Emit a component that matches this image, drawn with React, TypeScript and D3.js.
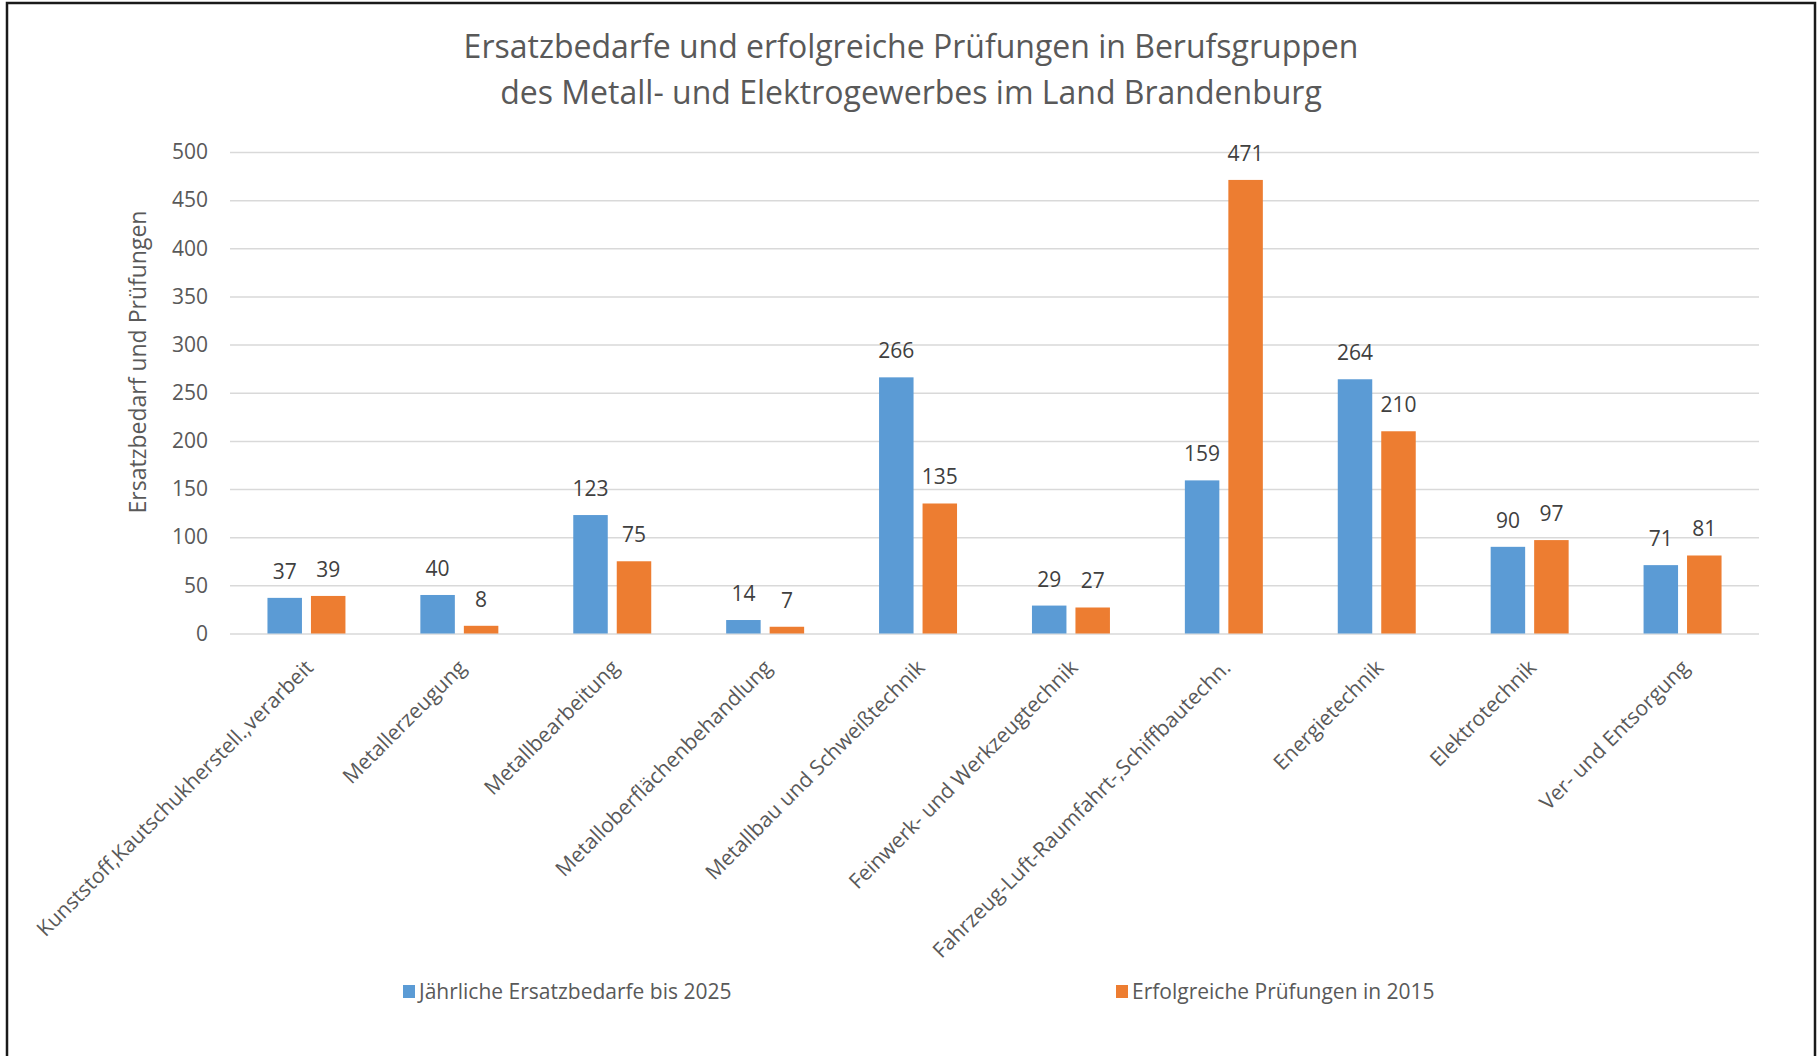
import React from "react";
import * as d3 from "d3";

// Berufsgruppen (x categories)
const categories = [
  "Kunststoff,Kautschukherstell.,verarbeit",
  "Metallerzeugung",
  "Metallbearbeitung",
  "Metalloberflächenbehandlung",
  "Metallbau und Schweißtechnik",
  "Feinwerk- und Werkzeugtechnik",
  "Fahrzeug-Luft-Raumfahrt-,Schiffbautechn.",
  "Energietechnik",
  "Elektrotechnik",
  "Ver- und Entsorgung",
];

// Jährliche Ersatzbedarfe bis 2025
const ersatzbedarf = [37, 40, 123, 14, 266, 29, 159, 264, 90, 71];
// Erfolgreiche Prüfungen in 2015
const pruefungen = [39, 8, 75, 7, 135, 27, 471, 210, 97, 81];

const seriesNames = ["Jährliche Ersatzbedarfe bis 2025", "Erfolgreiche Prüfungen in 2015"];
const seriesColors = ["#5B9BD5", "#ED7D31"];
const yTicks = [0, 50, 100, 150, 200, 250, 300, 350, 400, 450, 500];

const titleLines = [
  "Ersatzbedarfe und erfolgreiche Prüfungen in Berufsgruppen",
  "des Metall- und Elektrogewerbes im Land Brandenburg",
];

export default function App() {
  const ref = React.useRef<HTMLDivElement>(null);

  React.useEffect(() => {
    d3.select(ref.current).select("svg").remove();
    drawChart();
  }, []);

  function drawChart() {
    const width = 1819;
    const height = 1056;
    const font = "'Open Sans', sans-serif";
    const plot = { left: 230, right: 1759, top: 152, bottom: 633.5 };

    const svg = d3
      .select(ref.current)
      .append("svg")
      .attr("width", width)
      .attr("height", height)
      .style("position", "absolute")
      .style("left", 0)
      .style("top", 0)
      .style("font-family", font);

    svg.append("rect").attr("width", width).attr("height", height).attr("fill", "#fff");

    // outer frame
    svg.append("rect")
      .attr("x", 7)
      .attr("y", 3)
      .attr("width", 1808)
      .attr("height", 1200)
      .attr("fill", "none")
      .attr("stroke", "#1a1a1a")
      .attr("stroke-width", 2.5);

    const x0 = d3
      .scaleBand()
      .domain(categories)
      .range([plot.left, plot.right])
      .paddingInner(0.49)
      .paddingOuter(0.245);

    const x1 = d3
      .scaleBand()
      .domain(["0", "1"])
      .range([0, x0.bandwidth()])
      .paddingInner(0.207);

    const y = d3.scaleLinear().domain([0, 500]).range([plot.bottom, plot.top]);

    // gridlines
    const yAxisGrid = d3
      .axisLeft(y)
      .tickValues(yTicks)
      .tickSize(-(plot.right - plot.left))
      .tickFormat(() => "");
    const grid = svg.append("g")
      .attr("transform", `translate(${plot.left},0)`)
      .call(yAxisGrid);
    grid.select(".domain").remove();
    grid.selectAll("line").attr("stroke", "#D9D9D9").attr("stroke-width", 1.5);

    // y tick labels
    const yAxis = d3.axisLeft(y).tickValues(yTicks).tickSize(0).tickPadding(22);
    const ya = svg.append("g")
      .attr("transform", `translate(${plot.left},0)`)
      .call(yAxis);
    ya.select(".domain").remove();
    ya.selectAll("text")
      .attr("font-family", font)
      .attr("font-size", 21)
      .attr("fill", "#595959");

    // y axis title
    svg.append("text")
      .attr("transform", `translate(146,362) rotate(-90)`)
      .attr("text-anchor", "middle")
      .attr("font-size", 23)
      .attr("fill", "#595959")
      .text("Ersatzbedarf und Prüfungen");

    // bars
    const seriesData = [ersatzbedarf, pruefungen];
    seriesData.forEach((values, si) => {
      svg.selectAll(`rect.s${si}`)
        .data(values)
        .enter()
        .append("rect")
        .attr("class", `s${si}`)
        .attr("x", (d, i) => x0(categories[i])! + x1(String(si))!)
        .attr("y", (d) => y(d))
        .attr("width", x1.bandwidth())
        .attr("height", (d) => y(0) - y(d))
        .attr("fill", seriesColors[si]);

      svg.selectAll(`text.l${si}`)
        .data(values)
        .enter()
        .append("text")
        .attr("class", `l${si}`)
        .attr("x", (d, i) => x0(categories[i])! + x1(String(si))! + x1.bandwidth() / 2)
        .attr("y", (d) => y(d) - 19)
        .attr("text-anchor", "middle")
        .attr("font-size", 21)
        .attr("fill", "#404040")
        .text((d) => d);
    });

    // x category labels, rotated
    svg.selectAll("text.cat")
      .data(categories)
      .enter()
      .append("text")
      .attr("class", "cat")
      .attr("transform", (d) => `translate(${x0(d)! + x0.bandwidth() / 2 + 8},669) rotate(-45)`)
      .attr("text-anchor", "end")
      .attr("font-size", 21)
      .attr("fill", "#595959")
      .text((d) => d);

    // title
    svg.selectAll("text.title")
      .data(titleLines)
      .enter()
      .append("text")
      .attr("class", "title")
      .attr("x", 911)
      .attr("y", (d, i) => 58 + i * 46)
      .attr("text-anchor", "middle")
      .attr("font-size", 32)
      .attr("fill", "#595959")
      .text((d) => d);

    // legend
    const legendX = [403, 1116];
    const legend = svg.selectAll("g.legend")
      .data(seriesNames)
      .enter()
      .append("g")
      .attr("class", "legend")
      .attr("transform", (d, i) => `translate(${legendX[i]},985)`);
    legend.append("rect")
      .attr("width", 12)
      .attr("height", 13)
      .attr("fill", (d, i) => seriesColors[i]);
    legend.append("text")
      .attr("x", 16)
      .attr("y", 14)
      .attr("font-size", 21)
      .attr("fill", "#595959")
      .text((d) => d);
  }

  return <div ref={ref} />;
}
